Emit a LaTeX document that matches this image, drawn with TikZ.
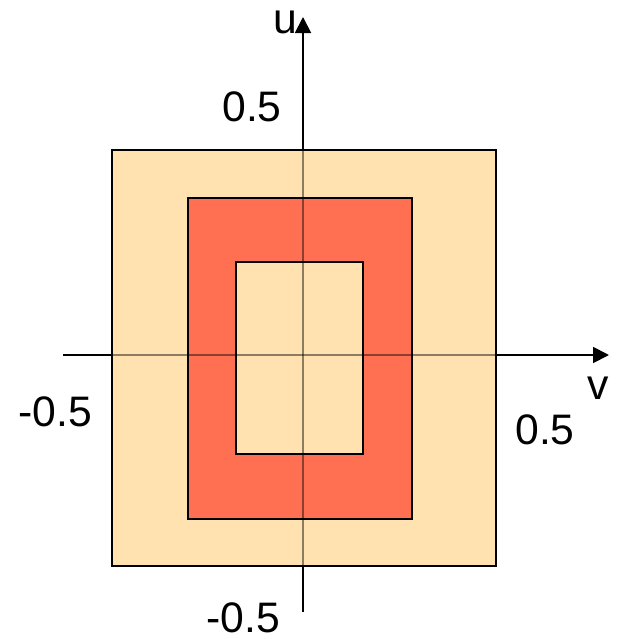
\documentclass[tikz,border=0pt]{standalone}
\usepackage{fontspec}
\setmainfont{Liberation Sans}
\usetikzlibrary{arrows.meta}
\definecolor{beige}{RGB}{255,226,176}
\definecolor{tomatored}{RGB}{255,112,82}
\tikzset{
  box/.style={draw=black, line width=1.5pt},
  axis/.style={line width=1.4pt, -{Triangle[length=12pt,width=12pt]}},
  lbl/.style={font=\fontsize{32}{32}\selectfont, inner sep=0pt},
}
\begin{document}
\begin{tikzpicture}[x=0.75pt,y=-0.75pt]
\useasboundingbox (0,0) rectangle (617,639);
% axes (underneath)
\coordinate (ybot) at (303,612);
\coordinate (ytop) at (303,17);
\coordinate (xl) at (63,355);
\coordinate (xr) at (609,355);
\draw[axis] (ybot) -- (ytop);
\draw[axis] (xl) -- (xr);
% rectangles
\node[box, fill=beige, minimum width=384*0.75pt, minimum height=416*0.75pt, inner sep=0pt, anchor=north west] (outer) at (111,149) {};
\node[box, fill=tomatored, minimum width=224*0.75pt, minimum height=321*0.75pt, inner sep=0pt, anchor=north west] (mid) at (187,197) {};
\node[box, fill=beige, minimum width=127*0.75pt, minimum height=192*0.75pt, inner sep=0pt, anchor=north west] (inner) at (235,261) {};
% axes seen through the fills
\begin{scope}
\clip (111,149) rectangle (495,565);
\draw[line width=1.4pt, draw opacity=0.45] (ybot) -- (303,30);
\draw[line width=1.4pt, draw opacity=0.45] (xl) -- (595,355);
\end{scope}
% labels
\node[lbl] (u) at (285,22) {u};
\node[lbl] (v) at (598,388) {v};
\node[lbl] (ytl) at (252,107) {0.5};
\node[lbl] (ybl) at (243,618) {-0.5};
\node[lbl] (xll) at (55,412) {-0.5};
\node[lbl] (xrl) at (545,430) {0.5};
\end{tikzpicture}
\end{document}
